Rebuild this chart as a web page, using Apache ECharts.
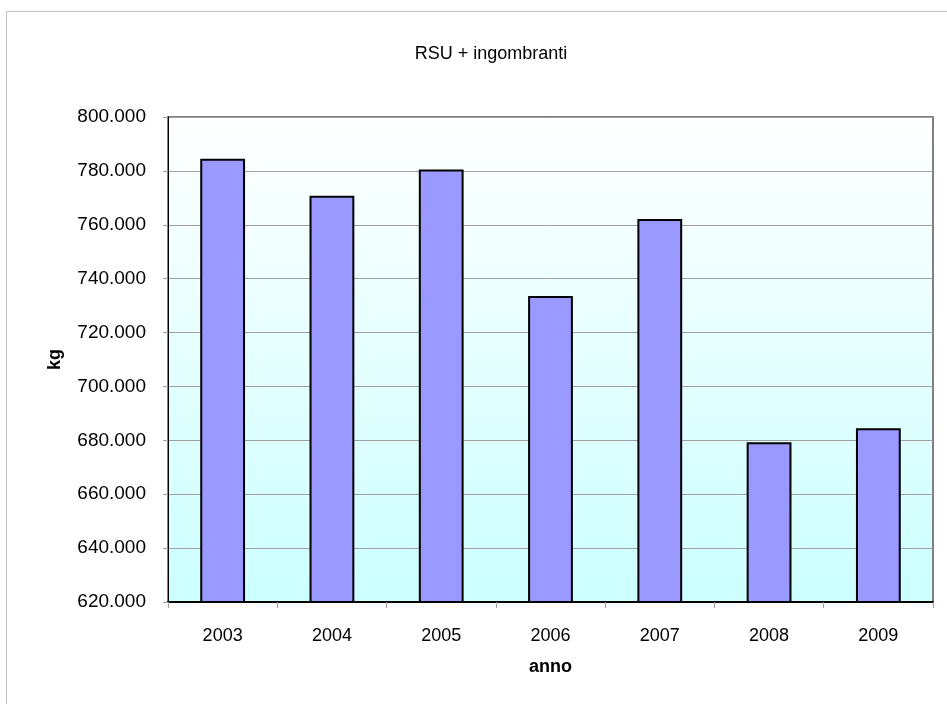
<!DOCTYPE html>
<html>
<head>
<meta charset="utf-8">
<script src="https://cdn.jsdelivr.net/npm/echarts@6/dist/echarts.min.js"></script>
<style>
html,body{margin:0;padding:0;background:#fff;}
#c{width:947px;height:704px;}
</style>
</head>
<body>
<div id="c"></div>
<script>
const titleText = 'RSU + ingombranti';
const years = ['2003','2004','2005','2006','2007','2008','2009'];
const values = [784500, 770800, 780500, 733600, 762100, 679300, 684500];
const yMin = 620000, yMax = 800000, yStep = 20000;
const xName = 'anno', yName = 'kg';

function fmt(v){
  return String(Math.round(v)).replace(/\B(?=(\d{3})+(?!\d))/g,'.') ;
}
function fmtLabel(v){ return fmt(v / 1000) + '.000'; }

const chart = echarts.init(document.getElementById('c'), null, {renderer:'canvas'});
const font = 'Liberation Sans, Arial, sans-serif';
chart.setOption({
  animation:false,
  backgroundColor:'#ffffff',
  graphic:[{
    type:'rect', shape:{x:6.5, y:11.5, width:1000, height:800},
    style:{fill:'none', stroke:'#c0c0c0', lineWidth:1}, silent:true, z:-10
  }],
  title:{
    text:titleText, left:486, top:40, textAlign:'center',
    textStyle:{fontFamily:font, fontSize:18, fontWeight:'normal', color:'#000'}
  },
  grid:{
    left:168, right:14, top:117, bottom:102,
    show:true, borderColor:'#808080', borderWidth:2,
    backgroundColor:new echarts.graphic.LinearGradient(0,0,0,1,[
      {offset:0, color:'#ffffff'},{offset:1, color:'#ccffff'}
    ])
  },
  xAxis:{
    type:'category', data:years,
    name:xName, nameLocation:'middle', nameGap:56,
    nameTextStyle:{fontFamily:font, fontSize:18, fontWeight:'bold', color:'#000'},
    axisLine:{show:true, lineStyle:{color:'#000', width:2}},
    axisTick:{show:true, alignWithLabel:false, length:6, lineStyle:{color:'#a0a0a0'}},
    axisLabel:{fontFamily:font, fontSize:18, color:'#000', margin:25},
    splitLine:{show:false}
  },
  yAxis:{
    type:'value', min:yMin, max:yMax, interval:yStep,
    name:yName, nameLocation:'middle', nameGap:104,
    nameTextStyle:{fontFamily:font, fontSize:18, fontWeight:'bold', color:'#000'},
    axisLine:{show:true, lineStyle:{color:'#000', width:1}},
    axisTick:{show:true, inside:false, length:5, lineStyle:{color:'#a0a0a0'}},
    axisLabel:{fontFamily:font, fontSize:19, color:'#000', margin:22, formatter:fmtLabel},
    splitLine:{show:true, lineStyle:{color:'#a0a0a0', width:1}}
  },
  series:[{
    type:'bar', data:values, barWidth:'41%',
    itemStyle:{color:'#9999ff', borderColor:'#000', borderWidth:2}
  }]
});
</script>
</body>
</html>
